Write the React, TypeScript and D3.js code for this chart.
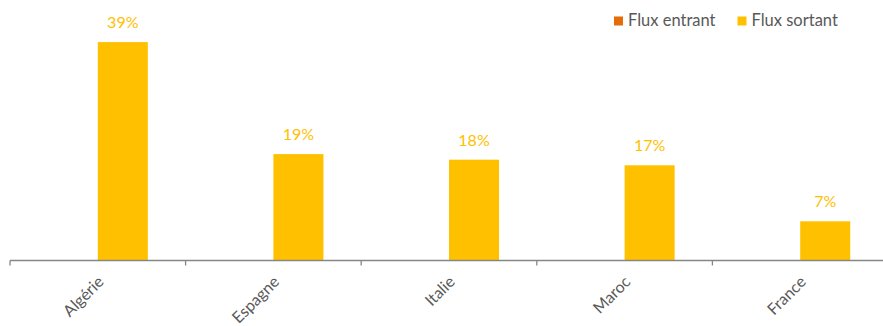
import React from "react";
import * as d3 from "d3";

const categories = ["Algérie", "Espagne", "Italie", "Maroc", "France"];
const seriesNames = ["Flux entrant", "Flux sortant"];
const fluxEntrant = [0, 0, 0, 0, 0];
const fluxSortant = [39, 19, 18, 17, 7];
const seriesColors = ["#E46C0A", "#FFC000"];

const W = 883;
const H = 326;
const plotLeft = 10;
const catW = 175.6;
const plotRight = plotLeft + catW * categories.length;
const baseY = 260.5;
const topY = 36.5;
const FONT = "Lato, 'Open Sans', sans-serif";

export default function App() {
  const x0 = d3.scaleBand().domain(categories).range([plotLeft, plotRight]).paddingInner(0).paddingOuter(0);
  const bw = x0.bandwidth();
  const barW = bw / 3.51;
  const x1 = d3
    .scaleBand()
    .domain(seriesNames)
    .range([bw / 2 - barW, bw / 2 + barW])
    .padding(0);
  const y = d3.scaleLinear().domain([0, 40]).range([baseY, topY]);
  const data = [fluxEntrant, fluxSortant];

  const tickXs = categories.map((c) => x0(c) as number);

  return (
    <div style={{ position: "absolute", left: 0, top: 0 }}>
      <svg width={W} height={H} style={{ display: "block", fontFamily: FONT }}>
        <rect width={W} height={H} fill="#fff" />
        {data.map((vals, si) =>
          vals.map((v, ci) =>
            v > 0 ? (
              <rect
                key={`${si}-${ci}`}
                x={(x0(categories[ci]) as number) + (x1(seriesNames[si]) as number)}
                y={y(v)}
                width={x1.bandwidth()}
                height={baseY - y(v)}
                fill={seriesColors[si]}
              />
            ) : null
          )
        )}
        {fluxSortant.map((v, ci) => (
          <text
            key={`l${ci}`}
            x={(x0(categories[ci]) as number) + (x1(seriesNames[1]) as number) + x1.bandwidth() / 2}
            y={y(v) - 14}
            textAnchor="middle"
            fontSize={16}
            fill="#FFC000"
          >
            {v}%
          </text>
        ))}
        <line x1={plotLeft} x2={plotRight} y1={baseY} y2={baseY} stroke="#868686" strokeWidth={1.3} />
        {tickXs.map((tx, i) => (
          <line key={`t${i}`} x1={tx} x2={tx} y1={baseY} y2={baseY + 5} stroke="#868686" strokeWidth={1.3} />
        ))}
        {categories.map((c) => {
          const cx = (x0(c) as number) + bw / 2 + 4;
          return (
            <text
              key={c}
              transform={`translate(${cx},${280}) rotate(-45)`}
              textAnchor="end"
              dominantBaseline="middle"
              fontSize={16}
              fill="#595959"
            >
              {c}
            </text>
          );
        })}
        {seriesNames.map((s, i) => {
          const lx = i === 0 ? 614 : 737.5;
          return (
            <g key={s}>
              <rect x={lx} y={16.5} width={9} height={9} fill={seriesColors[i]} />
              <text x={lx + 14} y={26} fontSize={16.5} fill="#595959">
                {s}
              </text>
            </g>
          );
        })}
      </svg>
    </div>
  );
}
